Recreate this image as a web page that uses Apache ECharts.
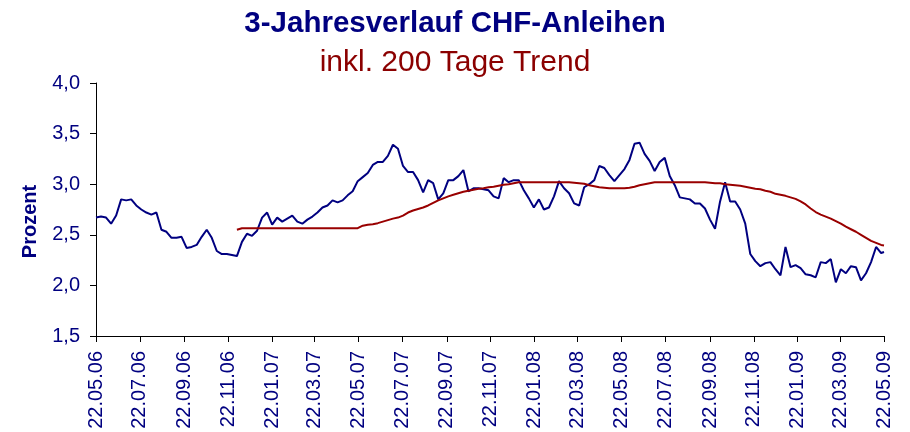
<!DOCTYPE html>
<html>
<head>
<meta charset="utf-8">
<script src="https://cdn.jsdelivr.net/npm/echarts@6/dist/echarts.min.js"></script>
<style>
  html, body { margin: 0; padding: 0; background: #fff; }
  #chart { width: 910px; height: 432px; }
</style>
</head>
<body>
<div id="chart"></div>
<script>
// weekly readings (every 7 days from 22.05.06), last value = 22.05.09
var anleihen = [
  2.67, 2.68, 2.67, 2.61, 2.69, 2.85, 2.84, 2.85, 2.79, 2.75,
  2.72, 2.70, 2.72, 2.55, 2.53, 2.47, 2.47, 2.48, 2.37, 2.38,
  2.40, 2.48, 2.55, 2.47, 2.34, 2.31, 2.31, 2.30, 2.29, 2.43,
  2.51, 2.49, 2.54, 2.67, 2.72, 2.60, 2.67, 2.63, 2.66, 2.69,
  2.63, 2.61, 2.65, 2.68, 2.72, 2.77, 2.79, 2.84, 2.82, 2.84,
  2.89, 2.93, 3.03, 3.07, 3.11, 3.19, 3.22, 3.22, 3.28, 3.39,
  3.35, 3.18, 3.12, 3.12, 3.04, 2.92, 3.04, 3.01, 2.85, 2.91,
  3.04, 3.04, 3.08, 3.14, 2.93, 2.96, 2.96, 2.95, 2.94, 2.88,
  2.86, 3.06, 3.02, 3.04, 3.04, 2.94, 2.86, 2.77, 2.85, 2.75,
  2.77, 2.88, 3.03, 2.96, 2.91, 2.81, 2.79, 2.97, 3.00, 3.04,
  3.18, 3.16, 3.09, 3.03, 3.09, 3.15, 3.24, 3.40, 3.41, 3.30,
  3.23, 3.13, 3.22, 3.26, 3.08, 2.99, 2.87, 2.86, 2.85, 2.81,
  2.81, 2.76, 2.65, 2.56, 2.83, 3.02, 2.83, 2.83, 2.75, 2.61,
  2.31, 2.24, 2.19, 2.22, 2.23, 2.16, 2.10, 2.38, 2.18, 2.20,
  2.17, 2.11, 2.10, 2.08, 2.23, 2.22, 2.26, 2.03, 2.16, 2.12,
  2.19, 2.18, 2.05, 2.12, 2.23, 2.38, 2.32, 2.33
];

// 200-Tage-Trend, starts at week 28
var trendStart = 28;
var trend = [
  2.55,
  2.565, 2.565, 2.565, 2.565, 2.565, 2.565, 2.565, 2.565, 2.565, 2.565, 2.565, 2.565,
  2.565, 2.565, 2.565, 2.565, 2.565, 2.565, 2.565, 2.565, 2.565, 2.565, 2.565, 2.565,
  2.59, 2.60, 2.605, 2.615, 2.63, 2.645, 2.66, 2.67, 2.69, 2.72,
  2.74, 2.755, 2.77, 2.79, 2.815, 2.84, 2.86, 2.88, 2.895, 2.91,
  2.925, 2.935, 2.945, 2.955, 2.96, 2.97, 2.975, 2.985, 2.995, 3.00, 3.01,
  3.02, 3.02, 3.02, 3.02, 3.02, 3.02, 3.02, 3.02, 3.02, 3.02, 3.02,
  3.015, 3.01, 3.005, 2.99, 2.98, 2.97, 2.965,
  2.96, 2.96, 2.96, 2.96,
  2.965, 2.975, 2.99, 3.00, 3.01,
  3.02, 3.02, 3.02, 3.02, 3.02, 3.02, 3.02, 3.02, 3.02, 3.02, 3.02,
  3.015, 3.01, 3.01, 3.00, 2.995, 2.99, 2.985, 2.975, 2.965, 2.955,
  2.95, 2.935, 2.925, 2.905, 2.895, 2.885, 2.87, 2.855, 2.83, 2.80,
  2.76, 2.725, 2.70, 2.68, 2.66, 2.635, 2.61, 2.58, 2.555, 2.53,
  2.50, 2.47, 2.44, 2.42, 2.40, 2.395
];

var yTicks = [1.5, 2.0, 2.5, 3.0, 3.5, 4.0];

// one category per calendar day
var tage = [];
var d = Date.UTC(2006, 4, 22), end = Date.UTC(2009, 4, 22);
function pad(n) { return n < 10 ? '0' + n : '' + n; }
while (d <= end) {
  var dt = new Date(d);
  tage.push(pad(dt.getUTCDate()) + '.' + pad(dt.getUTCMonth() + 1) + '.' + pad(dt.getUTCFullYear() % 100));
  d += 86400000;
}
var lastDay = tage.length - 1;

function showTick(index, value) {
  return value.slice(0, 2) === '22' && parseInt(value.slice(3, 5), 10) % 2 === 1;
}

var navy = '#000080';
var font = 'Liberation Sans, Arial, sans-serif';

var chart = echarts.init(document.getElementById('chart'), null, { renderer: 'canvas' });

chart.setOption({
  animation: false,
  backgroundColor: '#fff',
  title: [{
    text: '3-Jahresverlauf CHF-Anleihen',
    left: 'center',
    top: 4,
    textStyle: { color: navy, fontSize: 29.5, fontWeight: 'bold', fontFamily: font }
  }, {
    text: 'inkl. 200 Tage Trend',
    left: 'center',
    top: 43,
    textStyle: { color: '#8b0000', fontSize: 30, fontWeight: 'normal', fontFamily: font }
  }],
  grid: { left: 96, right: 26, top: 83, bottom: 96, containLabel: false },
  xAxis: {
    type: 'category',
    data: tage,
    boundaryGap: false,
    axisLine: { lineStyle: { color: '#000', width: 1 } },
    axisTick: { interval: showTick, length: 6, lineStyle: { color: '#000' } },
    axisLabel: {
      interval: showTick,
      rotate: 90,
      margin: 15,
      color: navy,
      fontSize: 20,
      fontFamily: font
    },
    splitLine: { show: false }
  },
  yAxis: {
    type: 'value',
    min: yTicks[0],
    max: yTicks[yTicks.length - 1],
    interval: 0.5,
    name: 'Prozent',
    nameLocation: 'middle',
    nameGap: 56,
    nameTextStyle: { color: navy, fontSize: 20, fontWeight: 'bold', fontFamily: font, padding: [0, 24, 0, 0] },
    axisLine: { show: true, lineStyle: { color: '#000', width: 1 } },
    axisTick: { show: true, length: 6, lineStyle: { color: '#000' } },
    axisLabel: {
      margin: 16,
      color: navy,
      fontSize: 20,
      fontFamily: font,
      formatter: function (v) { return v.toFixed(1).replace('.', ','); }
    },
    splitLine: { show: false }
  },
  series: [{
    name: 'CHF-Anleihen',
    type: 'line',
    showSymbol: false,
    data: anleihen.map(function (v, i) { return [Math.min(i * 7, lastDay), v]; }),
    lineStyle: { color: navy, width: 2 },
    itemStyle: { color: navy },
    z: 2
  }, {
    name: '200 Tage Trend',
    type: 'line',
    showSymbol: false,
    data: trend.map(function (v, i) { return [Math.min((i + trendStart) * 7, lastDay), v]; }),
    lineStyle: { color: '#990000', width: 2 },
    itemStyle: { color: '#990000' },
    z: 3
  }]
});
</script>
</body>
</html>
